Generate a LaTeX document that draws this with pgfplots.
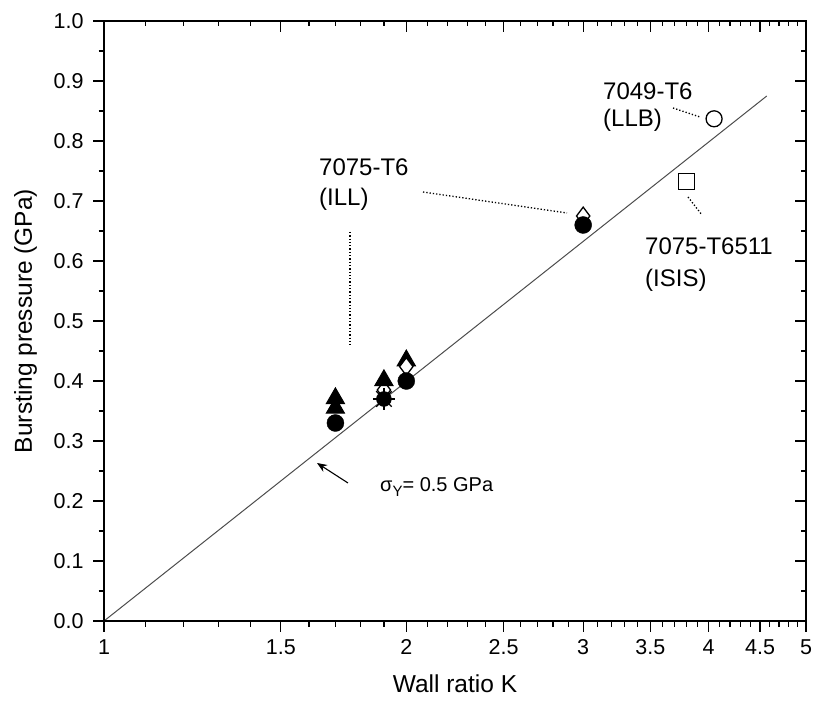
\documentclass[border=0pt]{standalone}
\usepackage{fontspec}
\setmainfont{Liberation Sans}
\usepackage{pgfplots}
\pgfplotsset{compat=1.18}
\usetikzlibrary{arrows.meta}
\begin{document}
\begin{tikzpicture}
\path[use as bounding box] (-104pt,-81pt) rectangle (719pt,621pt);
\begin{axis}[at={(0pt,0pt)}, anchor=south west, scale only axis, width=702pt, height=600pt,
  xmode=log, xmin=1, xmax=5, ymin=0, ymax=1,
  xtick={1,1.5,2,2.5,3,3.5,4,4.5,5},
  minor xtick={1.1,1.2,1.3,1.4,1.6,1.7,1.8,1.9,2.1,2.2,2.3,2.4,2.6,2.7,2.8,2.9,3.1,3.2,3.3,3.4,3.6,3.7,3.8,3.9,4.1,4.2,4.3,4.4,4.6,4.7,4.8,4.9},
  ytick={0,0.1,0.2,0.3,0.4,0.5,0.6,0.7,0.8,0.9,1.0},
  minor ytick={0.05,0.15,0.25,0.35,0.45,0.55,0.65,0.75,0.85,0.95},
  major tick length=11pt, minor tick length=5.5pt,
  tick style={black, line width=1.2pt},
  axis line style={line width=1.4pt},
  clip=false,
  xticklabels={1,1.5,2,2.5,3,3.5,4,4.5,5},
  yticklabel style={/pgf/number format/fixed, /pgf/number format/fixed zerofill, /pgf/number format/precision=1, xshift=-6pt},
  xticklabel style={yshift=-4pt},
  tick align=outside, xtick pos=left, ytick pos=left,
  tick label style={font=\fontsize{21.5}{25}\selectfont, /pgf/number format/assume math mode=true},
  xlabel={Wall ratio K}, ylabel={Bursting pressure (GPa)},
  label style={font=\fontsize{24.5}{29}\selectfont, inner sep=0pt},
  xlabel style={at={(axis description cs:0.5,-0.12)}, anchor=base},
  ylabel style={at={(axis description cs:-0.1026,0.5)}, anchor=base},
]
\addplot[black!70, line width=1pt] coordinates {(1,0) (4.57,0.875)};
\addplot[only marks, mark=triangle*, mark size=10.5pt, mark options={fill=black, draw=black, line width=1pt}] coordinates {(2.0,0.434)};
\addplot[only marks, mark=diamond*, mark size=8.9pt, mark options={fill=white, draw=black, line width=1.3pt}] coordinates {(1.9,0.385) (2.0,0.424) (3.0,0.675)};
\addplot[only marks, mark=triangle*, mark size=10.5pt, mark options={fill=black, draw=black, line width=1pt}] coordinates {(1.7,0.371) (1.7,0.355) (1.9,0.401)};
\addplot[only marks, mark=*, mark size=8.5pt, mark options={fill=black, draw=black}] coordinates {(1.7,0.330) (2.0,0.400) (3.0,0.660)};
\addplot[only marks, mark=+, mark size=11pt, mark options={draw=black, line width=1.2pt}] coordinates {(1.9,0.370)};
\addplot[only marks, mark=x, mark size=11pt, mark options={draw=black, line width=1.2pt}] coordinates {(1.9,0.370)};
\addplot[only marks, mark=*, mark size=7.5pt, mark options={fill=black, draw=black}] coordinates {(1.9,0.370)};
\addplot[only marks, mark=square*, mark size=8pt, mark options={fill=white, draw=black, line width=1.3pt}] coordinates {(3.8,0.732)};
\addplot[only marks, mark=*, mark size=8pt, mark options={fill=white, draw=black, line width=1.3pt}] coordinates {(4.05,0.837)};
\end{axis}
\begin{axis}[at={(0pt,0pt)}, anchor=south west, scale only axis, width=702pt, height=600pt,
  xmode=log, xmin=1, xmax=5, ymin=0, ymax=1,
  xtick={1,1.5,2,2.5,3,3.5,4,4.5,5},
  minor xtick={1.1,1.2,1.3,1.4,1.6,1.7,1.8,1.9,2.1,2.2,2.3,2.4,2.6,2.7,2.8,2.9,3.1,3.2,3.3,3.4,3.6,3.7,3.8,3.9,4.1,4.2,4.3,4.4,4.6,4.7,4.8,4.9},
  ytick={0,0.1,0.2,0.3,0.4,0.5,0.6,0.7,0.8,0.9,1.0},
  minor ytick={0.05,0.15,0.25,0.35,0.45,0.55,0.65,0.75,0.85,0.95},
  major tick length=11pt, minor tick length=5.5pt,
  tick style={black, line width=1.2pt},
  axis line style={line width=1.4pt},
  xticklabels={}, yticklabels={}, tick align=inside, xtick pos=right, ytick pos=right]
\addplot[draw=none] coordinates {(1,0) (5,1)};
\end{axis}
\begin{scope}[font=\fontsize{24}{28}\selectfont]
\node[anchor=base west, inner sep=0pt] at (499pt,521pt) {7049-T6};
\node[anchor=base west, inner sep=0pt] at (499pt,494pt) {(LLB)};
\node[anchor=base west, inner sep=0pt] at (215pt,445pt) {7075-T6};
\node[anchor=base west, inner sep=0pt] at (215pt,415pt) {(ILL)};
\node[anchor=base west, inner sep=0pt] at (541pt,366pt) {7075-T6511};
\node[anchor=base west, inner sep=0pt] at (541pt,334pt) {(ISIS)};
\end{scope}
\draw[line width=1.3pt, dotted] (569pt,513pt) -- (596pt,504pt);
\draw[line width=1.3pt, dotted] (319pt,429pt) -- (463pt,408pt);
\draw[line width=1.3pt, dotted] (246pt,389pt) -- (246pt,276pt);
\draw[line width=1.3pt, dotted] (584pt,424pt) -- (598pt,406pt);
\draw[line width=1.1pt, -{Stealth[length=10pt, width=8pt]}] (244pt,138pt) -- (213pt,158pt);
\node[anchor=base west, inner sep=0pt, font=\fontsize{20}{24}\selectfont] at (276pt,129pt) {σ\raisebox{-5pt}{\fontsize{15}{18}\selectfont Y}= 0.5 GPa};
\end{tikzpicture}
\end{document}
